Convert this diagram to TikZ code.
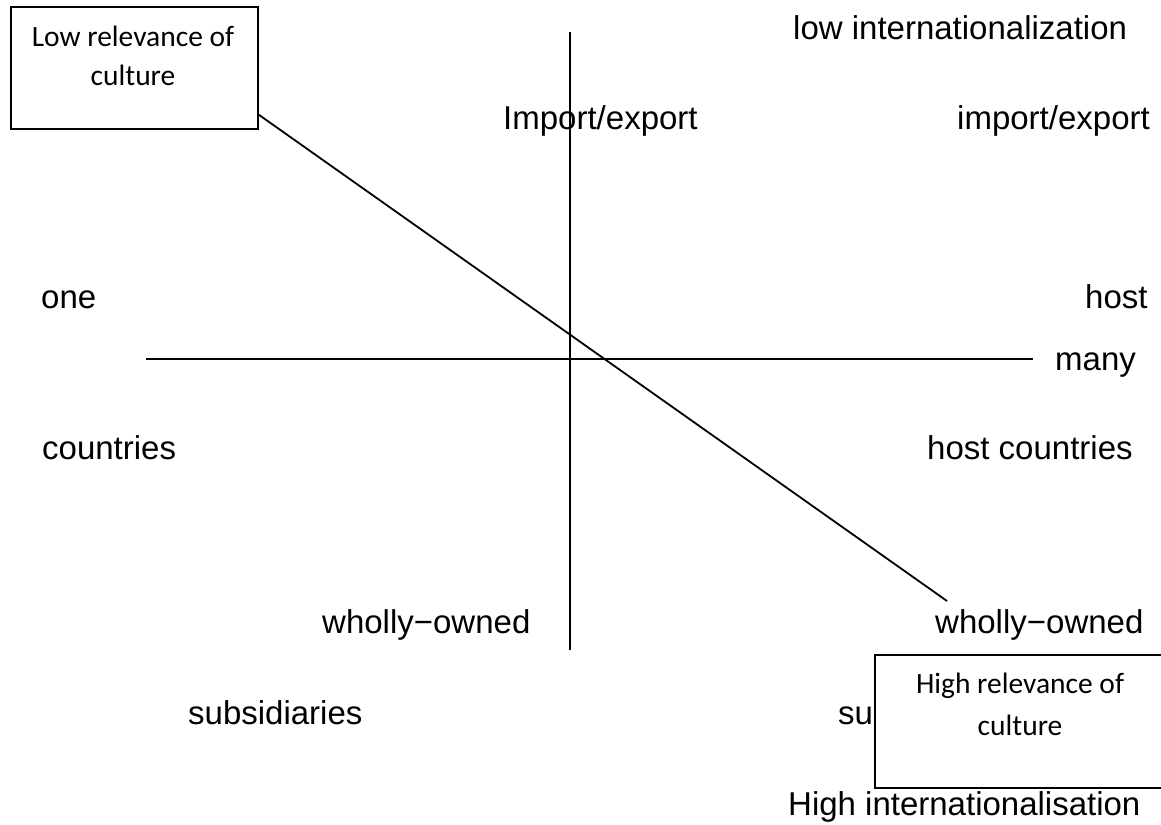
\documentclass[tikz,border=0pt]{standalone}
\usepackage{fontspec}
\setmainfont{Liberation Sans}
\newfontfamily\boxfont{Carlito}
\begin{document}
\begin{tikzpicture}[x=1pt,y=-1pt,
  lbl/.style={anchor=base west,inner sep=0pt,font=\fontsize{33}{40}\selectfont},
  culturebox/.style={draw=black,line width=1.6pt,fill=white,anchor=north west,inner sep=0pt},
  boxtext/.style={anchor=base,inner sep=0pt,font=\boxfont\fontsize{29.5}{36}\selectfont},
  axis/.style={line width=1.8pt,line cap=butt},
]
\useasboundingbox (0,0) rectangle (1161,824);

% upper-left box
\node[culturebox,minimum width=247pt,minimum height=122pt] (low) at (10,6) {};
\node[boxtext] (lowA) at (133,47) {Low relevance of};
\node[boxtext] (lowB) at (133,86) {culture};

% axes
\coordinate (vtop) at (570,32);
\coordinate (vbot) at (570,650);
\coordinate (hleft) at (146,359);
\coordinate (hright) at (1033,359);
\draw[axis] (vtop) -- (vbot);
\draw[axis] (hleft) -- (hright);

% diagonal from the low-relevance box
\coordinate (diagStart) at ([yshift=15pt]low.south east);
\coordinate (diagEnd) at (947,601);
\draw[axis] (diagStart) -- (diagEnd);

% labels
\node[lbl] (lowint) at (793,40) {low internationalization};
\node[lbl] (ie1) at (503,129) {Import/export};
\node[lbl] (ie2) at (957,129) {import/export};
\node[lbl] (one) at (41,308) {one};
\node[lbl] (host) at (1085,308) {host};
\node[lbl] (many) at (1055,370) {many};
\node[lbl] (ctry) at (42,459) {countries};
\node[lbl] (hctry) at (927,459) {host countries};
\node[lbl] (wo1) at (322,633) {wholly−owned};
\node[lbl] (wo2) at (935,633) {wholly−owned};
\node[lbl] (sub1) at (188,724) {subsidiaries};
\node[lbl] (sub2) at (838,724) {subsidiaries};
\node[lbl] (highint) at (788,815) {High internationalisation};

% lower-right box, drawn over the text behind it; it runs past the right edge
\node[culturebox,minimum width=340pt,minimum height=133pt] (high) at (874,654) {};
\node[boxtext] (highA) at (1020,693) {High relevance of};
\node[boxtext] (highB) at (1020,735) {culture};
\end{tikzpicture}
\end{document}
